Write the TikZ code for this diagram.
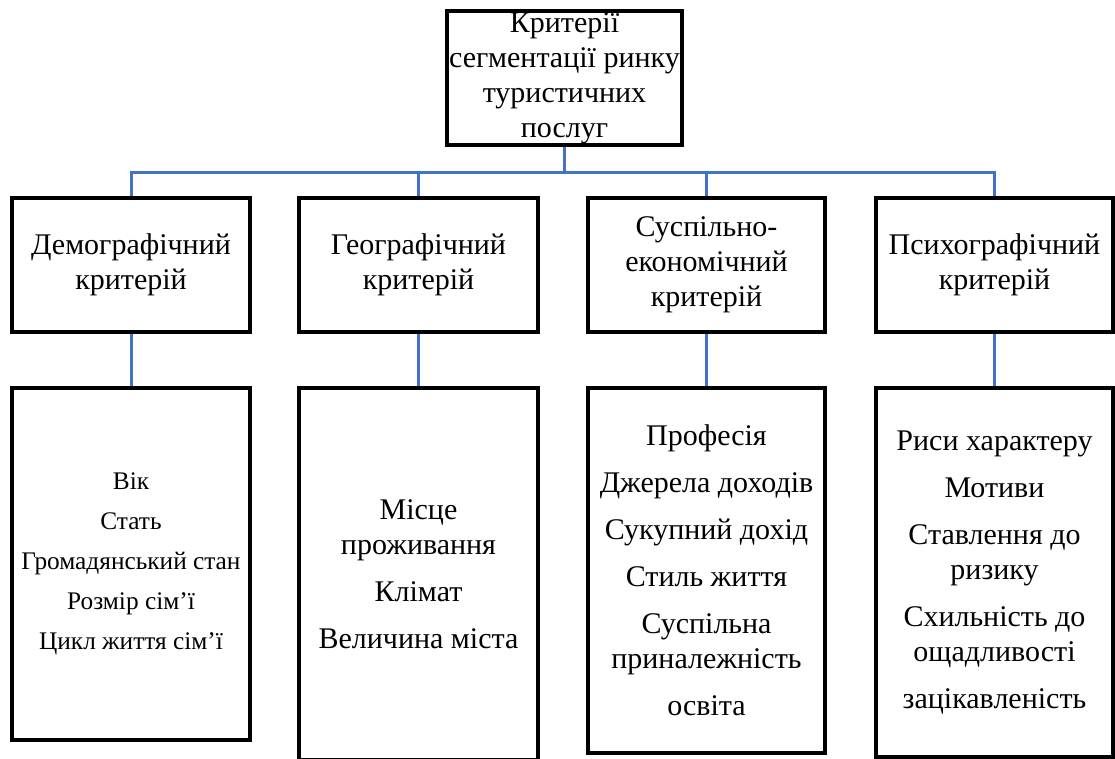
\documentclass[tikz,border=0pt]{standalone}
\usepackage{fontspec}
\setmainfont{Liberation Serif}
\definecolor{linkblue}{RGB}{68,114,196}
\begin{document}
\begin{tikzpicture}[x=0.75pt,y=-0.75pt,
  box/.style={draw=black, line width=2.5pt, fill=white, inner sep=0pt, align=center,
    font=\fontsize{22.5}{26.25}\selectfont},
  midbox/.style={box, minimum height=100.5pt},
  link/.style={draw=linkblue, line width=2.25pt}]
\useasboundingbox (0,0) rectangle (1115,758);
% top
\node[box, minimum width=176.25pt, minimum height=100.5pt] (top) at (564.5,78)
  {Критерії\\сегментації ринку\\туристичних\\послуг};
% middle row
\node[midbox, minimum width=178.5pt]  (m1) at (131,265)   {Демографічний\\критерій};
\node[midbox, minimum width=179.25pt] (m2) at (418.5,265) {Географічний\\критерій};
\node[midbox, minimum width=177.75pt] (m3) at (706.5,265) {Суспільно-\\економічний\\критерій};
\node[midbox, minimum width=177.75pt] (m4) at (994.5,265) {Психографічний\\критерій};
% bottom row
\node[box, minimum width=178.5pt, minimum height=264pt, font=\fontsize{19}{30}\selectfont] (b1) at (131,564)
  {Вік\\Стать\\Громадянський стан\\Розмір сім’ї\\Цикл життя сім’ї};
\node[box, minimum width=179.25pt, minimum height=279pt] (b2) at (418.5,574)
  {Місце\\проживання\\[9pt]Клімат\\[9pt]Величина міста};
\node[box, minimum width=177.75pt, minimum height=273.75pt] (b3) at (706.5,570.5)
  {Професія\\[9pt]Джерела доходів\\[9pt]Сукупний дохід\\[9pt]Стиль життя\\[9pt]Суспільна\\приналежність\\[9pt]освіта};
\node[box, minimum width=177.75pt, minimum height=276.75pt] (b4) at (994.5,572.5)
  {Риси характеру\\[9pt]Мотиви\\[9pt]Ставлення до\\ризику\\[9pt]Схильність до\\ощадливості\\[9pt]зацікавленість};
% connectors
\coordinate (hub) at (564.5,172);
\draw[link] (top.south) -- (hub);
\foreach \n in {m1,m2,m3,m4} \draw[link] (hub) -| (\n.north);
\draw[link] (m1.south) -- (b1.north);
\draw[link] (m2.south) -- (b2.north);
\draw[link] (m3.south) -- (b3.north);
\draw[link] (m4.south) -- (b4.north);
\end{tikzpicture}
\end{document}
